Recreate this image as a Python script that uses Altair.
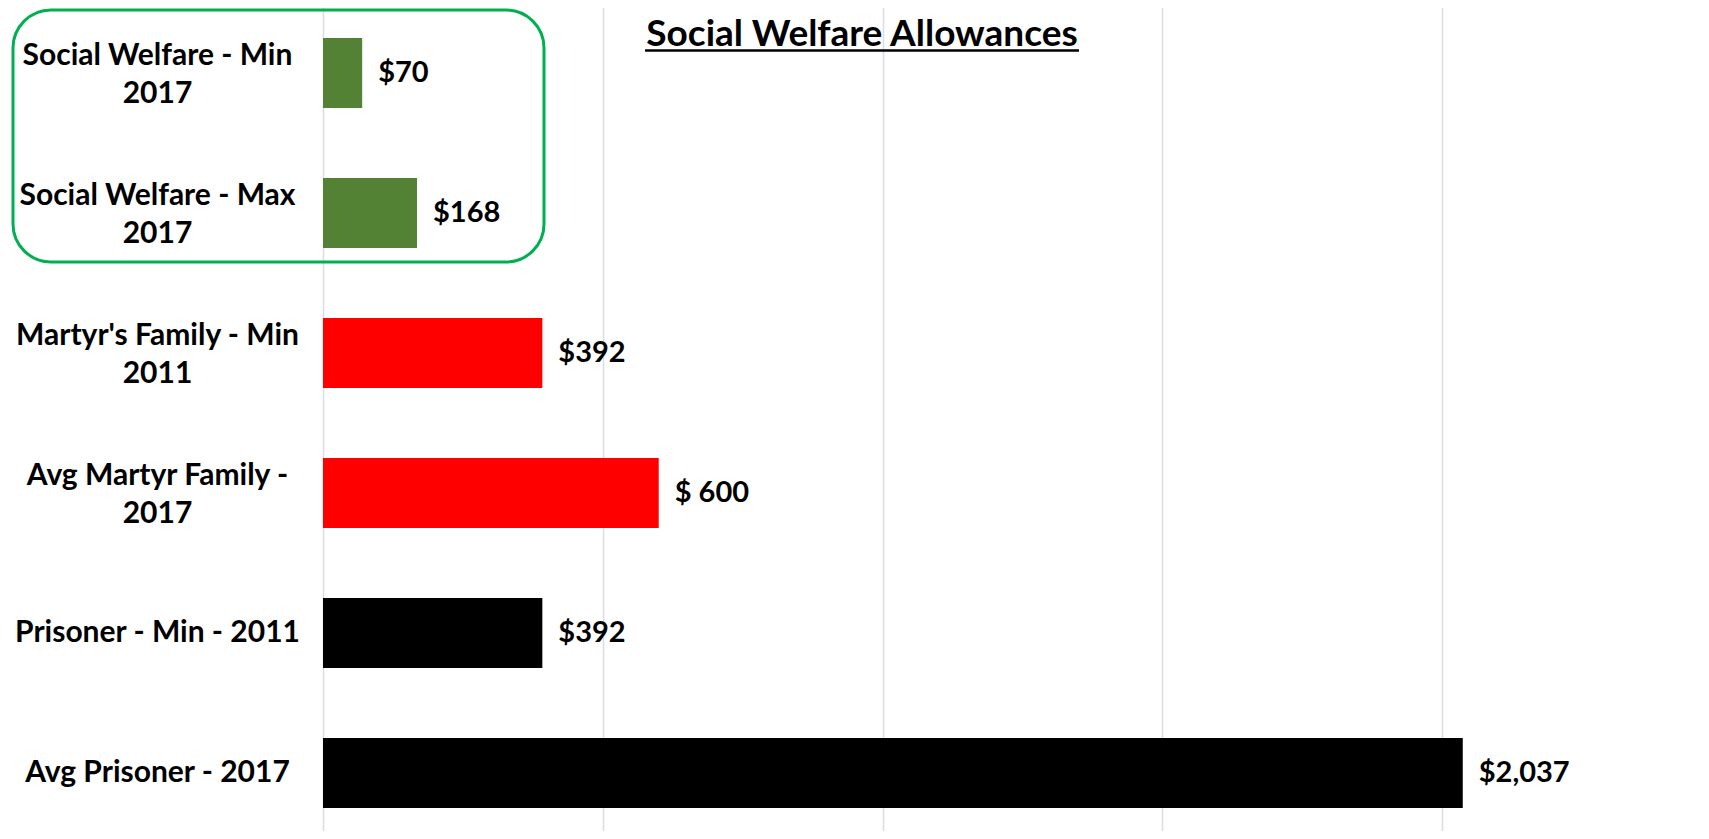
import altair as alt
import pandas as pd

categories = [
    "Social Welfare - Min|2017",
    "Social Welfare - Max|2017",
    "Martyr's Family - Min|2011",
    "Avg Martyr Family -|2017",
    "Prisoner - Min - 2011",
    "Avg Prisoner - 2017",
]
values = [70, 168, 392, 600, 392, 2037]
value_labels = ["$70", "$168", "$392", "$ 600", "$392", "$2,037"]
groups = ["Social Welfare", "Social Welfare", "Martyr", "Martyr", "Prisoner", "Prisoner"]
group_names = ["Social Welfare", "Martyr", "Prisoner"]
group_colors = ["#548235", "#ff0000", "#000000"]
grid_values = [0, 500, 1000, 1500, 2000]
title_text = "Social Welfare Allowances"

df = pd.DataFrame({"category": categories, "value": values, "label": value_labels, "group": groups})

FONT = "Lato"

x_enc = alt.X(
    "value:Q",
    scale=alt.Scale(domain=[0, 2461], nice=False, zero=True),
    axis=alt.Axis(values=grid_values, grid=True, gridColor="#dcdce8", gridWidth=1.5,
                  labels=False, ticks=False, domain=False, title=None),
)
y_enc = alt.Y(
    "category:N",
    sort=categories,
    scale=alt.Scale(range=[-5, 835], paddingInner=0.5, paddingOuter=0.25),
    axis=alt.Axis(title=None, domain=False, ticks=False, labelAlign="center",
                  labelBaseline="middle", labelPadding=166, labelFont=FONT,
                  labelFontSize=30, labelFontWeight="bold", labelColor="#000000",
                  labelLineHeight=38, labelLimit=400,
                  labelOffset={"condition": {"test": "indexof(datum.value, '|') >= 0", "value": -17},
                               "value": 0},
                  labelExpr="split(datum.value, '|')"),
)

bars = alt.Chart(df).mark_bar().encode(
    x=x_enc,
    y=y_enc,
    color=alt.Color("group:N", scale=alt.Scale(domain=group_names, range=group_colors), legend=None),
)

texts = alt.Chart(df).mark_text(
    align="left", baseline="middle", dx=16, font=FONT, fontSize=29, fontWeight="bold", color="#000000"
).encode(x="value:Q", y=alt.Y("category:N", sort=categories), text="label:N")

title_df = pd.DataFrame({"t": [title_text]})
title = alt.Chart(title_df).mark_text(
    align="center", baseline="alphabetic", font=FONT, fontSize=37, fontWeight="bold", color="#000000"
).encode(x=alt.value(539), y=alt.value(38), text="t:N")

underline = alt.Chart(title_df).mark_rule(color="#000000", strokeWidth=2.5).encode(
    x=alt.value(322), x2=alt.value(756), y=alt.value(42.5)
)

box = alt.Chart(title_df).mark_rect(
    fill="transparent", stroke="#00b050", strokeWidth=3, cornerRadius=38
).encode(x=alt.value(-310), x2=alt.value(221), y=alt.value(2), y2=alt.value(254))

chart = alt.layer(bars, texts, box, underline, title).properties(
    width=1377, height=823,
    background="#ffffff",
    autosize=alt.AutoSizeParams(type="none"),
    padding={"left": 315, "top": 0, "right": 0, "bottom": 0},
).configure_view(stroke=None, strokeWidth=0)

chart.save("out.html", embed_options={"renderer": "svg", "actions": False})
